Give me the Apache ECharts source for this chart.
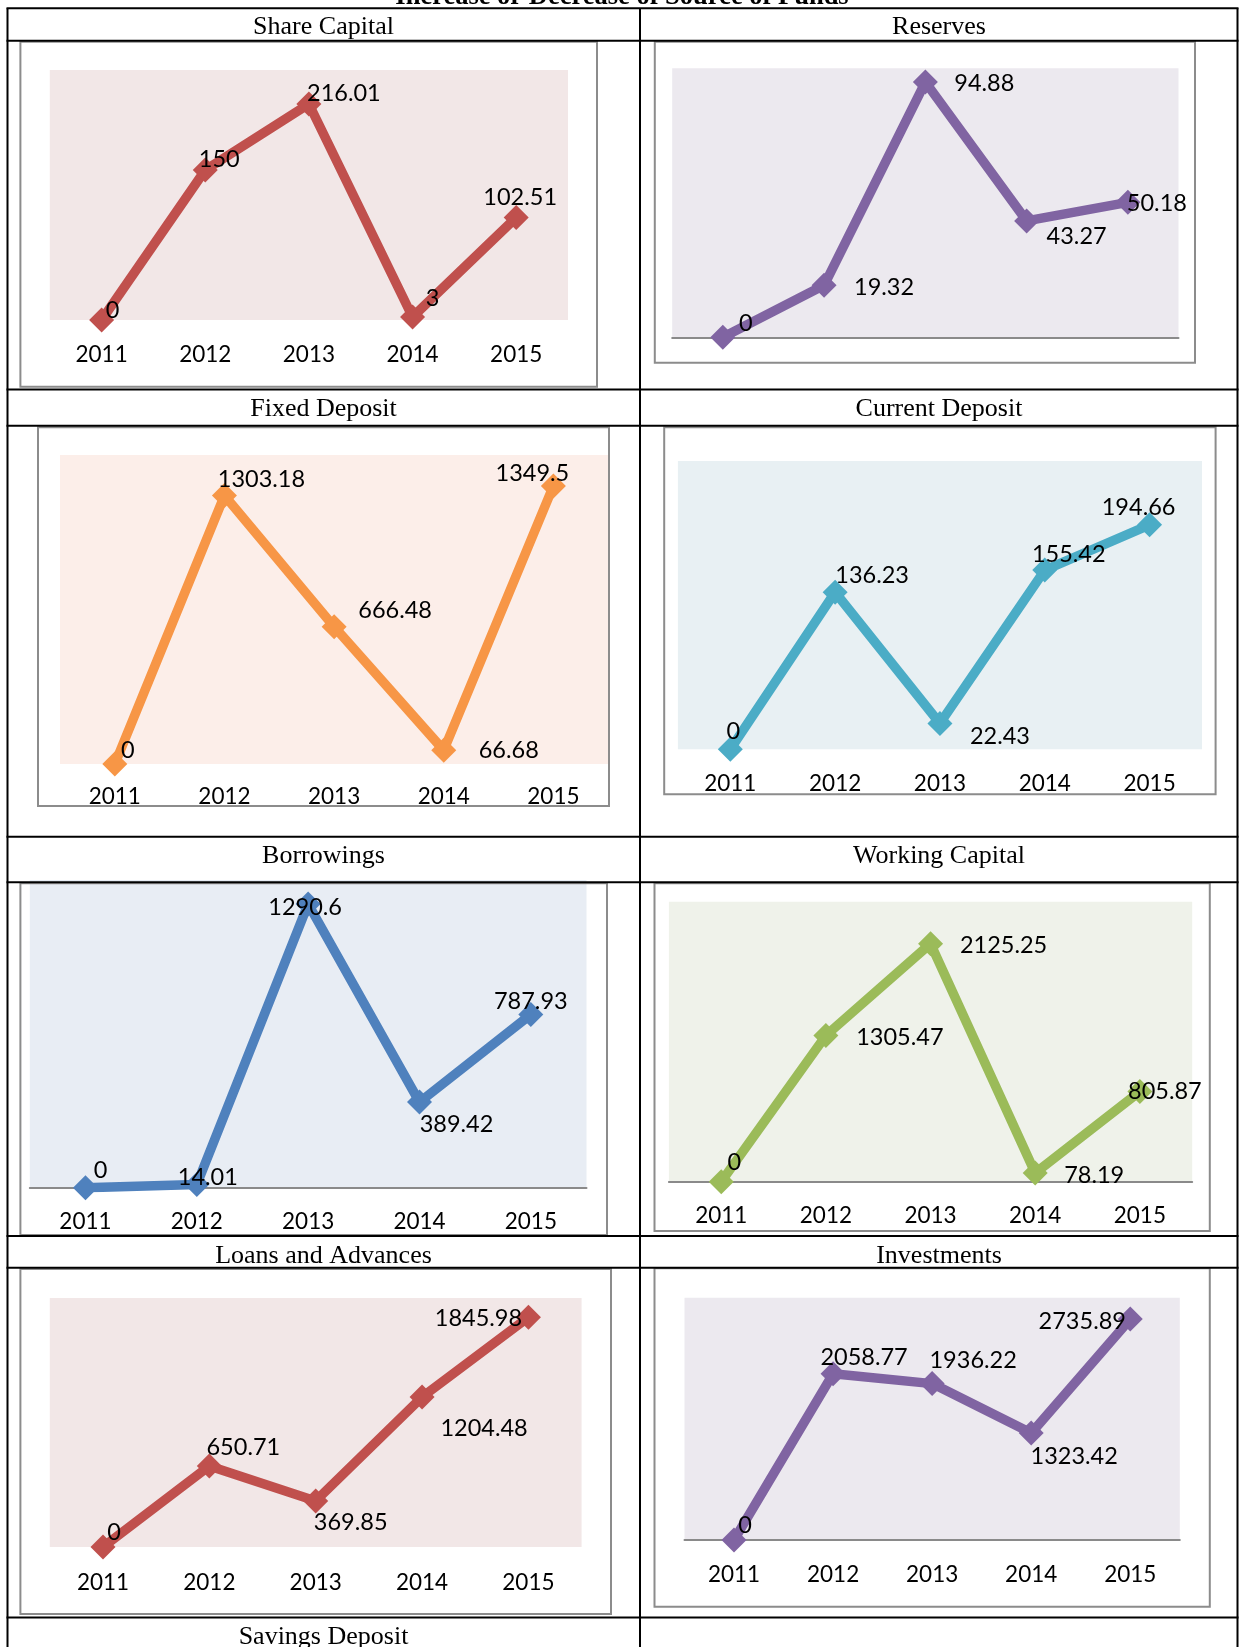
<!DOCTYPE html>
<html>
<head>
<meta charset="utf-8">
<script src="https://cdn.jsdelivr.net/npm/echarts@6/dist/echarts.min.js"></script>
<style>
  html, body { margin: 0; padding: 0; background: #fff; }
  #chart { width: 1240px; height: 1647px; }
</style>
</head>
<body>
<div id="chart"></div>
<script>
// ---------------- data ----------------
const mainTitle = 'Increase or Decrease of Source of Funds';
const years = ['2011', '2012', '2013', '2014', '2015'];
const panelTitles = ['Share Capital', 'Reserves', 'Fixed Deposit', 'Current Deposit',
  'Borrowings', 'Working Capital', 'Loans and Advances', 'Investments', 'Savings Deposit'];
const shareCapital     = [0, 150, 216.01, 3, 102.51];
const reserves         = [0, 19.32, 94.88, 43.27, 50.18];
const fixedDeposit     = [0, 1303.18, 666.48, 66.68, 1349.5];
const currentDeposit   = [0, 136.23, 22.43, 155.42, 194.66];
const borrowings       = [0, 14.01, 1290.6, 389.42, 787.93];
const workingCapital   = [0, 1305.47, 2125.25, 78.19, 805.87];
const loansAndAdvances = [0, 650.71, 369.85, 1204.48, 1845.98];
const investments      = [0, 2058.77, 1936.22, 1323.42, 2735.89];
const axisMax = [250, 100, 1500, 250, 1400, 2500, 2000, 3000];

const seriesData = [shareCapital, reserves, fixedDeposit, currentDeposit,
  borrowings, workingCapital, loansAndAdvances, investments];

// ---------------- layout / style ----------------
const panels = [
  { grid: [49.8, 70, 518.2, 250], box: [20.4, 41.7, 576.6, 345], color: '#C0504D', fill: '#F2E7E7', axisLine: false, labels: true, margin: 23.5,
    offs: [[11,-10],[14,-11],[35,-11],[20,-19],[4,-20]] },
  { grid: [672.2, 68.3, 506.3, 269], box: [654.8, 41.7, 540.2, 321], color: '#8064A2', fill: '#ECE9EF', axisLine: true, labels: false, margin: 22.75,
    offs: [[23,-14],[60,2],[59,1],[50,16],[29,1]] },
  { grid: [60, 455, 548.2, 309], box: [38, 427.3, 571, 378.7], color: '#F79646', fill: '#FCEEE9', axisLine: false, labels: true, margin: 21.75,
    offs: [[13,-14],[37,-16],[61,-16],[65,0],[-21,-13]] },
  { grid: [677.9, 461, 524.1, 288.3], box: [664.2, 427.3, 551.4, 367], color: '#4BACC6', fill: '#E8F0F3', axisLine: false, labels: true, margin: 23.5,
    offs: [[3,-18],[37,-17],[60,13],[24,-16],[-11,-17]] },
  { grid: [29.8, 880, 556.7, 307.7], box: [20.4, 883.3, 586.6, 351.7], color: '#4F81BD', fill: '#E8EDF4', axisLine: true, labels: true, margin: 22.75,
    offs: [[15,-17],[11,-7],[-3,3],[37,22],[0,-13]] },
  { grid: [668.9, 901.7, 523.3, 280], box: [654.5, 883.3, 555.3, 347.7], color: '#9BBB59', fill: '#EFF2EA', axisLine: true, labels: true, margin: 22.75,
    offs: [[13,-19],[74,2],[73,2],[59,2],[25,0]] },
  { grid: [49.8, 1298, 531.8, 249], box: [20.4, 1269, 590.6, 345], color: '#C0504D', fill: '#F2E7E7', axisLine: false, labels: true, margin: 24.75,
    offs: [[11,-15],[34,-19],[35,21],[62,31],[-50,1]] },
  { grid: [684.5, 1297.7, 495.3, 242.3], box: [654.5, 1268.3, 555.3, 338.4], color: '#8064A2', fill: '#ECE9EF', axisLine: true, labels: true, margin: 23.75,
    offs: [[11,-15],[31,-16],[41,-23],[43,23],[-48,2]] }
];

const headerPos = [
  [323.5, 27.5], [939, 27.5], [323.5, 409.2], [939, 409.2],
  [323.5, 856.5], [939, 856.5], [323.5, 1255.9], [939, 1255.9], [323.5, 1637.5]
];
const hLines = [8.3, 40.7, 389.5, 425.7, 836.7, 882.3, 1236, 1267.7, 1617.5];
const vLines = [7.5, 640, 1237.5];

const numFont = 'Lato';
const serifFont = '"Liberation Serif", "Times New Roman", serif';

// ---------------- build option ----------------
const grids = [], xAxes = [], yAxes = [], series = [], graphics = [];

panels.forEach((p, i) => {
  grids.push({
    left: p.grid[0], top: p.grid[1], width: p.grid[2], height: p.grid[3],
    show: true, backgroundColor: p.fill, borderWidth: 0, containLabel: false
  });
  xAxes.push({
    type: 'category', gridIndex: i, data: years, boundaryGap: true,
    axisLine: { show: p.axisLine, lineStyle: { color: '#8A8A8A', width: 2 } },
    axisTick: { show: false },
    splitLine: { show: false },
    axisLabel: { show: p.labels, margin: p.margin, color: '#000', fontFamily: numFont, fontSize: 22.5, lineHeight: 22.5, interval: 0 }
  });
  yAxes.push({
    type: 'value', gridIndex: i, min: 0, max: axisMax[i], show: false,
    splitLine: { show: false }
  });
  series.push({
    type: 'line', xAxisIndex: i, yAxisIndex: i,
    symbol: 'diamond', symbolSize: 25,
    lineStyle: { color: p.color, width: 9.5 },
    itemStyle: { color: p.color },
    data: seriesData[i].map((v, k) => ({
      value: v,
      label: { offset: p.offs[k] }
    })),
    label: {
      show: true, position: 'inside', color: '#000',
      fontFamily: numFont, fontSize: 23.5, align: 'center', verticalAlign: 'middle'
    },
    z: 3
  });
  // white strip under each chart box so text never spills past its frame
  graphics.push({
    type: 'rect', z: 40, silent: true,
    shape: { x: p.box[0], y: p.box[1] + p.box[3], width: p.box[2], height: 12 },
    style: { fill: '#fff' }
  });
  graphics.push({
    type: 'rect', z: 50, silent: true,
    shape: { x: p.box[0], y: p.box[1], width: p.box[2], height: p.box[3] },
    style: { fill: 'transparent', stroke: '#8C8C8C', lineWidth: 2 }
  });
});

hLines.forEach(y => graphics.push({
  type: 'line', z: 60, silent: true,
  shape: { x1: vLines[0] - 1, y1: y, x2: vLines[2] + 1, y2: y },
  style: { stroke: '#000', lineWidth: 2 }
}));
vLines.forEach(x => graphics.push({
  type: 'line', z: 60, silent: true,
  shape: { x1: x, y1: hLines[0], x2: x, y2: 1647 },
  style: { stroke: '#000', lineWidth: 2 }
}));

panelTitles.forEach((t, i) => graphics.push({
  type: 'text', z: 60, silent: true, x: headerPos[i][0], y: headerPos[i][1],
  style: { text: t, fill: '#000', fontFamily: serifFont, fontSize: 26, align: 'center', verticalAlign: 'middle' }
}));

graphics.push({
  type: 'text', z: 60, silent: true, x: 622, y: -2.8,
  style: { text: mainTitle, fill: '#000', fontFamily: serifFont, fontSize: 26.5, fontWeight: 'bold', align: 'center', verticalAlign: 'middle' }
});

const chart = echarts.init(document.getElementById('chart'), null, { renderer: 'canvas' });
chart.setOption({
  animation: false,
  backgroundColor: '#fff',
  grid: grids, xAxis: xAxes, yAxis: yAxes, series: series,
  graphic: { elements: graphics }
});
</script>
</body>
</html>
